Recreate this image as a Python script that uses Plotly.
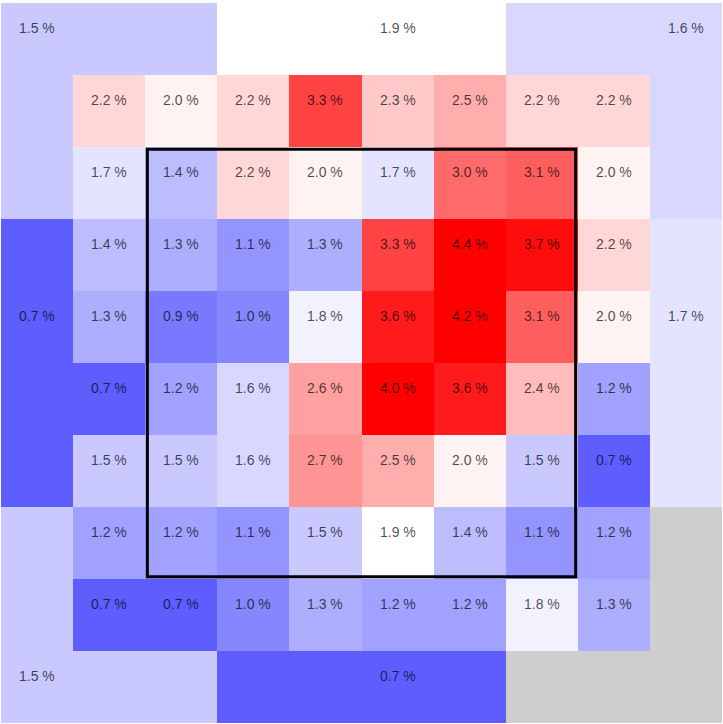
import plotly.graph_objects as go

# inner 8x8 zone grid, top row first (percent)
inner = [
    [2.2, 2.0, 2.2, 3.3, 2.3, 2.5, 2.2, 2.2],
    [1.7, 1.4, 2.2, 2.0, 1.7, 3.0, 3.1, 2.0],
    [1.4, 1.3, 1.1, 1.3, 3.3, 4.4, 3.7, 2.2],
    [1.3, 0.9, 1.0, 1.8, 3.6, 4.2, 3.1, 2.0],
    [0.7, 1.2, 1.6, 2.6, 4.0, 3.6, 2.4, 1.2],
    [1.5, 1.5, 1.6, 2.7, 2.5, 2.0, 1.5, 0.7],
    [1.2, 1.2, 1.1, 1.5, 1.9, 1.4, 1.1, 1.2],
    [0.7, 0.7, 1.0, 1.3, 1.2, 1.2, 1.8, 1.3],
]

# outer regions
top_left, top_mid, top_right = 1.5, 1.9, 1.6
left_mid, right_mid = 0.7, 1.7
bottom_left, bottom_mid, bottom_right = 1.5, 0.7, None

n = 10
z = [[None] * n for _ in range(n)]
for r in range(8):
    for c in range(8):
        z[r + 1][c + 1] = inner[r][c]

def outer(r, c):
    # pick region for an edge cell
    if r == 0:
        return top_left if c <= 2 else (top_mid if c <= 6 else top_right)
    if r == n - 1:
        return bottom_left if c <= 2 else (bottom_mid if c <= 6 else bottom_right)
    if c == 0:
        return top_left if r <= 2 else (left_mid if r <= 6 else bottom_left)
    return top_right if r <= 2 else (right_mid if r <= 6 else bottom_right)

for r in range(n):
    for c in range(n):
        if r in (0, n - 1) or c in (0, n - 1):
            z[r][c] = outer(r, c)

# label positions
lx, ly, lt = [], [], []
for r in range(8):
    for c in range(8):
        lx.append(c + 1)
        ly.append(r + 1)
        lt.append(f"{inner[r][c]:.1f} %")
for (c, r, v) in [(0, 0, top_left), (5, 0, top_mid), (9, 0, top_right),
                  (0, 4, left_mid), (9, 4, right_mid),
                  (0, 9, bottom_left), (5, 9, bottom_mid)]:
    lx.append(c)
    ly.append(r)
    lt.append(f"{v:.1f} %")

fig = go.Figure()
fig.add_trace(go.Heatmap(
    z=z, x=list(range(n)), y=list(range(n)),
    zmin=0, zmax=3.8,
    colorscale=[[0, "rgb(0,0,255)"], [0.5, "rgb(255,255,255)"], [1, "rgb(255,0,0)"]],
    showscale=False, hoverinfo="skip",
))

for x, y, t in zip(lx, ly, lt):
    fig.add_annotation(x=x, y=y, text=t, showarrow=False, yshift=11,
                       font=dict(family="Liberation Sans, Arial", size=14,
                                 color="rgba(0,0,0,0.7)"))

# strike zone
fig.add_shape(type="rect", x0=1.53, x1=7.47, y0=1.53, y1=7.47,
              line=dict(color="black", width=3))

fig.update_xaxes(range=[-0.5, 9.5], visible=False, showgrid=False)
fig.update_yaxes(range=[9.5, -0.5], visible=False, showgrid=False)
fig.update_layout(
    width=723, height=724,
    margin=dict(l=1, r=1, t=3, b=1),
    plot_bgcolor="#cecece", paper_bgcolor="white",
    showlegend=False,
)

fig.write_html("out.html", config={"displayModeBar": False},
               post_script="document.body.style.margin='0px';")
